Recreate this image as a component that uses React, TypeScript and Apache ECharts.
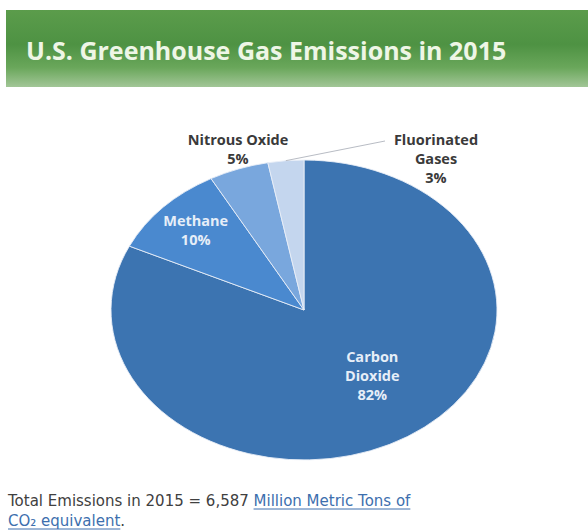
import React, { useEffect, useRef } from "react";
import * as echarts from "echarts";

const titleText = "U.S. Greenhouse Gas Emissions in 2015";
const categories = ["Carbon Dioxide", "Methane", "Nitrous Oxide", "Fluorinated Gases"];
const labelLines = [["Carbon", "Dioxide"], ["Methane"], ["Nitrous Oxide"], ["Fluorinated", "Gases"]];
const values = [82, 10, 5, 3];
const footerPlain = "Total Emissions in 2015 = 6,587 ";
const footerLink1 = "Million Metric Tons of";
const footerLink2 = "CO\u2082 equivalent";
const footerEnd = ".";

const colors = ["#3c74b1", "#4a89cf", "#79a7dd", "#c4d6ee"];
// label layout: inside -> radial factor; outside -> absolute anchor
const labelLayout: any[] = [
  { inside: true, fx: 0.66, fy: 0.52 },
  { inside: true, fx: 0.77, fy: 0.78 },
  { inside: false, x: 238, y: 139 },
  { inside: false, x: 436, y: 139, line: [385, 141] },
];

const CX = 304;
const CY = 310;
const RX = 193;
const RY = 150;
const LINE_H = 19;

function measure(text: string, font: string): number {
  const c = document.createElement("canvas").getContext("2d") as CanvasRenderingContext2D;
  c.font = font;
  return c.measureText(text).width;
}

export default function App() {
  const ref = useRef<HTMLDivElement>(null);
  useEffect(() => {
    document.body.style.margin = "0";
    const chart = echarts.init(ref.current as HTMLDivElement, null, { renderer: "svg" });
    const total = values.reduce((a, b) => a + b, 0);
    const footFont = '15px "DejaVu Sans"';
    const w1 = measure(footerPlain, footFont);
    const w2 = measure(footerLink1, footFont);
    const w3 = measure(footerLink2, footFont);
    const fx0 = 8;
    const fy1 = 501;
    const fy2 = 521;
    const dark = "#404040";
    const link = "#3d6fae";
    const footStyle = (text: string, fill: string) => ({
      text,
      fill,
      font: footFont,
      verticalAlign: "middle",
    });

    const option: any = {
      animation: false,
      backgroundColor: "#ffffff",
      graphic: [
        {
          type: "rect",
          shape: { x: 6, y: 10, width: 590, height: 77 },
          style: {
            fill: new echarts.graphic.LinearGradient(0, 0, 0, 1, [
              { offset: 0, color: "#5b9c4b" },
              { offset: 0.45, color: "#4e9243" },
              { offset: 0.75, color: "#6aa75b" },
              { offset: 1, color: "#a2c697" },
            ]),
          },
          z: 0,
        },
        {
          type: "text",
          x: 26,
          y: 50,
          style: {
            text: titleText,
            fill: "#eef6e6",
            font: 'bold 25px "Open Sans"',
            verticalAlign: "middle",
            textAlign: "left",
          },
          z: 1,
        },
        { type: "text", x: fx0, y: fy1, style: footStyle(footerPlain, dark) },
        { type: "text", x: fx0 + w1, y: fy1, style: footStyle(footerLink1, link) },
        {
          type: "line",
          shape: { x1: fx0 + w1, y1: fy1 + 8, x2: fx0 + w1 + w2, y2: fy1 + 8 },
          style: { stroke: link, lineWidth: 1 },
        },
        { type: "text", x: fx0, y: fy2, style: footStyle(footerLink2, link) },
        {
          type: "line",
          shape: { x1: fx0, y1: fy2 + 8, x2: fx0 + w3, y2: fy2 + 8 },
          style: { stroke: link, lineWidth: 1 },
        },
        { type: "text", x: fx0 + w3, y: fy2, style: footStyle(footerEnd, dark) },
      ],
      series: [
        {
          type: "custom",
          coordinateSystem: "none",
          data: values.map((v, i) => ({ value: v, name: categories[i] })),
          renderItem: (params: any, api: any) => {
            const i = params.dataIndex;
            let cum = 0;
            for (let k = 0; k < i; k++) cum += values[k];
            const a0 = -Math.PI / 2 + (cum / total) * Math.PI * 2;
            const a1 = a0 + (values[i] / total) * Math.PI * 2;
            const mid = (a0 + a1) / 2;
            const children: any[] = [
              {
                type: "sector",
                x: CX,
                y: CY,
                scaleY: RY / RX,
                shape: { cx: 0, cy: 0, r: RX, r0: 0, startAngle: a0, endAngle: a1, clockwise: true },
                style: { fill: colors[i], stroke: "#e8eef7", lineWidth: 1, strokeNoScale: true },
              },
            ];
            const lay = labelLayout[i];
            const lines = [...labelLines[i], values[i] + "%"];
            let lx: number;
            let ly: number;
            if (lay.inside) {
              lx = CX + Math.cos(mid) * RX * lay.fx;
              ly = CY + Math.sin(mid) * RY * lay.fy - ((lines.length - 1) * LINE_H) / 2;
            } else {
              lx = lay.x;
              ly = lay.y;
            }
            const textFill = lay.inside ? "#e6eef8" : "#3a3a3a";
            lines.forEach((t, j) => {
              children.push({
                type: "text",
                x: lx,
                y: ly + j * LINE_H,
                style: {
                  text: t,
                  fill: textFill,
                  font: 'bold 14.5px "Open Sans"',
                  textAlign: "center",
                  verticalAlign: "middle",
                },
              });
            });
            if (lay.line) {
              const ex = CX + Math.cos(mid) * RX;
              const ey = CY + Math.sin(mid) * RY;
              children.push({
                type: "polyline",
                shape: { points: [[ex, ey], [lay.line[0], lay.line[1]]] },
                style: { stroke: "#b8bcc4", lineWidth: 1, fill: "none" },
              });
            }
            return { type: "group", children };
          },
        },
      ],
    };
    chart.setOption(option);
    return () => chart.dispose();
  }, []);
  return <div ref={ref} style={{ width: 588, height: 532 }} />;
}
